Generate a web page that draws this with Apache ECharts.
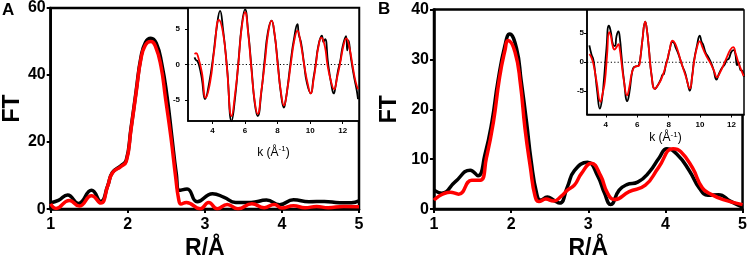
<!DOCTYPE html>
<html lang="en">
<head>
<meta charset="UTF-8">
<title>EXAFS</title>
<script src="https://cdn.jsdelivr.net/npm/echarts@6.0.0/dist/echarts.min.js"></script>
<style>html,body{margin:0;padding:0;background:#fff;}</style>
</head>
<body>
<div id="myChart" style="width:750px;height:265px;"></div>
<script>
// panel A - FT magnitude (black = experiment, red = fit)
var rA_exp  = [1.00,1.10,1.22,1.36,1.53,1.65,1.74,1.80,1.91,1.98,2.04,2.11,2.17,2.23,2.30,2.37,2.44,2.51,2.57,2.63,2.67,2.77,2.90,3.10,3.25,3.40,3.60,3.80,3.97,4.15,4.35,4.55,4.75,4.90,5.00];
var ftA_exp = [1.9,2.6,4.2,1.7,5.6,2.3,7.0,10.9,12.9,14.6,23.8,35.5,45.2,49.8,51.0,49.5,43.5,33.5,22.0,10.5,5.6,6.0,2.2,4.6,3.5,2.0,2.0,2.7,1.3,2.8,2.2,2.3,1.9,1.9,2.5];
var rA_fit  = [1.00,1.07,1.24,1.37,1.53,1.65,1.74,1.80,1.91,1.98,2.04,2.11,2.17,2.23,2.30,2.36,2.43,2.49,2.56,2.62,2.66,2.69,2.76,2.94,3.05,3.16,3.29,3.43,3.61,3.77,3.90,4.00,4.15,4.30,4.45,4.60,4.80,5.00];
var ftA_fit = [1.6,0.2,2.6,0.9,4.0,1.8,6.9,10.8,12.7,14.2,23.4,35.0,44.7,49.0,50.0,48.5,42.7,33.0,21.4,9.8,3.0,1.5,2.0,0.1,2.0,0.1,1.4,0.1,1.6,0.4,1.4,0.3,1.0,0.4,0.8,0.4,0.8,0.7];

// panel A inset - k-space chi
var kA_exp   = [2.90,3.00,3.08,3.20,3.35,3.55,3.80,4.05,4.25,4.47,4.65,4.90,5.18,5.40,5.60,5.80,6.00,6.20,6.40,6.60,6.78,7.00,7.20,7.40,7.63,7.80,8.00,8.20,8.39,8.50,8.60,8.80,9.00,9.22,9.30,9.45,9.62,9.80,10.04,10.20,10.35,10.50,10.72,10.82,10.92,11.10,11.30,11.45,11.55,11.70,11.85,12.00,12.20,12.28,12.35,12.50,12.70,12.85,12.94];
var chiA_exp = [1.0,0.6,0.5,-0.3,-2.0,-4.9,-2.6,1.2,5.0,7.6,5.0,-0.5,-8.0,-4.5,0.5,5.5,7.8,4.5,-0.5,-5.5,-7.3,-4.0,0.5,4.5,6.2,4.5,0.5,-4.0,-6.1,-5.0,-3.5,0.3,3.5,5.7,4.3,3.0,0.2,-2.6,-4.1,-2.0,0.2,2.6,4.1,3.2,3.6,0.2,-2.8,-4.1,-3.2,-1.0,0.5,2.6,4.0,2.0,3.4,1.0,-1.8,-3.5,-4.9];
var kA_fit   = [2.90,3.00,3.12,3.35,3.59,3.86,4.12,4.40,4.65,4.88,5.18,5.40,5.60,5.80,6.00,6.20,6.38,6.60,6.78,7.00,7.22,7.42,7.63,7.82,8.00,8.20,8.39,8.60,8.82,9.02,9.22,9.42,9.63,9.84,10.04,10.20,10.35,10.50,10.69,10.90,11.06,11.27,11.47,11.66,11.86,12.05,12.22,12.42,12.63,12.80,12.94];
var chiA_fit = [1.5,1.6,1.1,-1.1,-4.7,-2.5,2.2,6.3,4.5,-0.2,-7.3,-4.0,0.3,5.3,7.4,4.3,-0.3,-5.3,-7.0,-3.8,0.3,4.4,6.2,4.3,0.2,-3.8,-5.8,-3.5,0.2,3.3,4.8,3.0,0.0,-2.6,-4.1,-2.3,0.0,2.4,3.8,2.6,0.0,-2.3,-3.5,-1.8,0.4,2.7,3.7,2.3,-0.5,-2.5,-3.5];

// panel B - FT magnitude
var rB_exp  = [1.00,1.10,1.27,1.47,1.57,1.66,1.75,1.83,1.92,1.98,2.07,2.13,2.20,2.26,2.33,2.38,2.47,2.55,2.63,2.73,2.82,2.99,3.12,3.21,3.29,3.40,3.50,3.64,3.79,3.92,4.02,4.15,4.31,4.44,4.55,4.69,4.84,5.00];
var ftB_exp = [3.8,3.2,5.4,7.8,6.7,10.9,17.4,25.7,32.8,35.1,32.2,25.7,17.4,9.6,3.2,1.8,2.4,1.8,1.2,4.5,7.7,9.4,6.7,3.2,0.9,3.8,4.9,5.4,7.4,10.3,12.1,11.0,7.7,4.2,2.8,2.9,1.6,0.4];
var rB_fit  = [1.00,1.21,1.32,1.49,1.60,1.68,1.77,1.85,1.92,1.96,2.05,2.12,2.18,2.25,2.31,2.36,2.45,2.55,2.65,2.73,2.82,2.91,3.04,3.16,3.25,3.34,3.53,3.74,3.91,4.10,4.20,4.35,4.48,4.60,4.75,5.00];
var ftB_fit = [1.8,3.4,3.0,5.8,5.8,10.3,17.4,26.4,31.8,33.8,31.5,25.1,16.1,8.3,2.6,1.5,2.0,1.6,2.6,3.8,4.8,7.1,9.2,6.7,3.2,1.9,3.5,4.8,8.3,12.1,11.5,8.3,4.2,2.9,1.9,0.9];

// panel B inset
var kB_exp   = [2.95,3.09,3.20,3.31,3.45,3.62,3.75,3.87,4.04,4.19,4.30,4.46,4.58,4.68,4.80,4.90,4.99,5.15,5.37,5.50,5.68,5.80,5.94,6.10,6.22,6.32,6.51,6.62,6.74,6.91,7.12,7.30,7.52,7.60,7.70,7.83,7.95,8.05,8.25,8.35,8.45,8.57,8.70,8.88,9.05,9.20,9.35,9.50,9.62,9.80,9.98,10.10,10.20,10.36,10.50,10.67,10.85,11.05,11.20,11.41,11.55,11.70,11.83,12.00,12.15,12.25,12.36,12.45,12.57,12.70,12.80];
var chiB_exp = [2.9,1.3,0.5,-1.6,-5.0,-8.0,-6.5,-3.3,2.4,6.3,5.5,3.0,2.8,4.5,5.3,4.0,1.3,-3.0,-6.7,-5.2,-1.6,-0.8,-0.7,-0.5,1.2,3.6,7.0,5.5,2.4,-2.2,-4.6,-4.0,-2.8,-2.2,-2.0,-0.3,0.7,2.0,3.5,3.3,2.5,1.8,0.8,-0.7,-1.8,-3.5,-4.9,-2.3,0.3,2.8,4.6,3.5,3.0,1.6,1.0,0.1,-1.2,-3.0,-2.0,-0.9,-0.5,0.4,0.6,1.8,2.1,1.4,-0.5,0.0,-1.3,-1.5,-2.5];
var kB_fit   = [2.95,3.05,3.20,3.41,3.66,3.80,3.94,4.08,4.21,4.32,4.42,4.55,4.68,4.80,4.90,4.99,5.15,5.35,5.50,5.68,5.89,6.10,6.20,6.32,6.51,6.62,6.74,6.91,7.12,7.30,7.52,7.83,8.05,8.25,8.40,8.57,8.72,8.88,9.10,9.35,9.50,9.62,9.80,9.98,10.15,10.36,10.50,10.67,10.88,11.09,11.25,11.41,11.57,11.73,11.92,12.11,12.28,12.46,12.62,12.78];
var chiB_fit = [1.4,1.0,-0.2,-3.3,-6.8,-5.3,-3.3,1.3,5.2,4.5,3.0,2.2,2.6,3.1,2.0,0.1,-3.2,-5.7,-4.2,-1.6,-0.7,-0.6,0.8,3.6,7.0,5.5,2.4,-2.2,-4.6,-4.0,-3.0,-0.5,2.0,3.7,3.3,2.1,0.7,-0.7,-2.5,-4.5,-2.5,0.1,2.5,3.6,2.6,1.3,0.6,-0.2,-1.4,-2.6,-1.9,-1.0,0.0,1.0,2.1,2.6,1.4,-0.2,-1.3,-2.4];

// dotted zero reference lines of the insets
var zeroA_k = [2.5, 13];
var zeroB_k = [2.8, 12.8];
var zeroV = [0, 0];

var insetTicks = [4, 6, 8, 10, 12];
var chiTicks = [-5, 0, 5];

function pairs(xs, ys) {
    var out = [];
    for (var i = 0; i < xs.length; i++) out.push([xs[i], ys[i]]);
    return out;
}

var FONT = 'Liberation Sans';

function mainX(gi) {
    return {
        type: 'value', gridIndex: gi, min: 1, max: 5, interval: 1,
        axisLine: { show: true, onZero: false, lineStyle: { color: '#000', width: 2.5 } },
        axisTick: { show: true, length: 4, lineStyle: { color: '#000', width: 2 } },
        axisLabel: { color: '#000', fontWeight: 'bold', fontSize: 16, fontFamily: FONT, margin: 7 },
        splitLine: { show: false },
        name: 'R/Å', nameLocation: 'middle', nameGap: 27,
        nameTextStyle: { color: '#000', fontWeight: 'bold', fontSize: 23, fontFamily: FONT }
    };
}
function mainY(gi, max, step, gap) {
    return {
        type: 'value', gridIndex: gi, min: 0, max: max, interval: step,
        axisLine: { show: true, onZero: false, lineStyle: { color: '#000', width: 2.5 } },
        axisTick: { show: true, length: 4, lineStyle: { color: '#000', width: 2 } },
        axisLabel: { color: '#000', fontWeight: 'bold', fontSize: 16, fontFamily: FONT, margin: 5 },
        splitLine: { show: false },
        name: 'FT', nameLocation: 'middle', nameGap: gap,
        nameTextStyle: { color: '#000', fontWeight: 'bold', fontSize: 23, fontFamily: FONT }
    };
}
function insetX(gi, min, max, gap) {
    return {
        type: 'value', gridIndex: gi, min: min, max: max,
        axisLine: { show: true, onZero: false, lineStyle: { color: '#000', width: 1.5 } },
        axisTick: { show: true, length: 3, customValues: insetTicks, lineStyle: { color: '#000', width: 1 } },
        axisLabel: { color: '#000', fontWeight: 'bold', fontSize: 8, fontFamily: FONT, margin: 6, customValues: insetTicks },
        splitLine: { show: false },
        name: 'k (Å{s|-1})', nameLocation: 'middle', nameGap: gap,
        nameTextStyle: { color: '#000', fontSize: 12, fontFamily: FONT,
            rich: { s: { fontSize: 8, fontFamily: FONT, color: '#000', verticalAlign: 'top', padding: [0, 0, 7, 0] } } }
    };
}
function insetY(gi, min, max, margin) {
    return {
        type: 'value', gridIndex: gi, min: min, max: max,
        axisLine: { show: true, onZero: false, lineStyle: { color: '#000', width: 1.5 } },
        axisTick: { show: true, length: 3, customValues: chiTicks, lineStyle: { color: '#000', width: 1 } },
        axisLabel: { color: '#000', fontWeight: 'bold', fontSize: 8, fontFamily: FONT, margin: margin, customValues: chiTicks },
        splitLine: { show: false }
    };
}

function curve(xi, data, color, width) {
    return {
        type: 'line', xAxisIndex: xi, yAxisIndex: xi, data: data,
        smooth: 0.5, showSymbol: false, symbol: 'none',
        lineStyle: { color: color, width: width }, itemStyle: { color: color }
    };
}
function dotted(xi, data) {
    return {
        type: 'line', xAxisIndex: xi, yAxisIndex: xi, data: data,
        showSymbol: false, symbol: 'none', silent: true,
        lineStyle: { color: '#000', width: 1.2, type: [1.2, 2.2] }
    };
}

var myChart = echarts.init(document.getElementById('myChart'));
var option = {
    animation: false,
    backgroundColor: '#fff',
    textStyle: { fontFamily: FONT },
    graphic: [
        { type: 'text', left: 2, top: 2, style: { text: 'A', font: 'bold 17px "Liberation Sans"', fill: '#000' } },
        { type: 'text', left: 378, top: 1, style: { text: 'B', font: 'bold 17px "Liberation Sans"', fill: '#000' } }
    ],
    grid: [
        { left: 49, top: 7.5, width: 310, height: 206, show: true, borderColor: '#000', borderWidth: 2.5 },
        { left: 188, top: 8, width: 171, height: 113, show: true, borderColor: '#000', borderWidth: 1.5, backgroundColor: '#fff' },
        { left: 434, top: 9.5, width: 310, height: 207, show: true, borderColor: '#000', borderWidth: 2.5 },
        { left: 587, top: 10, width: 157, height: 104.5, show: true, borderColor: '#000', borderWidth: 1.5, backgroundColor: '#fff' }
    ],
    xAxis: [
        mainX(0),
        insetX(1, 2.5, 13, 24),
        mainX(2),
        insetX(3, 2.8, 12.8, 16)
    ],
    yAxis: [
        mainY(0, 60, 20, 26),
        insetY(1, -8, 8, 8),
        mainY(2, 40, 10, 33),
        insetY(3, -9, 9, 3)
    ],
    series: [
        curve(0, pairs(rA_exp, ftA_exp), '#000', 3.5),
        curve(0, pairs(rA_fit, ftA_fit), '#ff0000', 3.5),
        dotted(1, pairs(zeroA_k, zeroV)),
        curve(1, pairs(kA_exp, chiA_exp), '#000', 1.8),
        curve(1, pairs(kA_fit, chiA_fit), '#ff0000', 1.8),
        curve(2, pairs(rB_exp, ftB_exp), '#000', 3.5),
        curve(2, pairs(rB_fit, ftB_fit), '#ff0000', 3.5),
        dotted(3, pairs(zeroB_k, zeroV)),
        curve(3, pairs(kB_exp, chiB_exp), '#000', 1.8),
        curve(3, pairs(kB_fit, chiB_fit), '#ff0000', 1.8)
    ]
};
myChart.setOption(option);
</script>
</body>
</html>
